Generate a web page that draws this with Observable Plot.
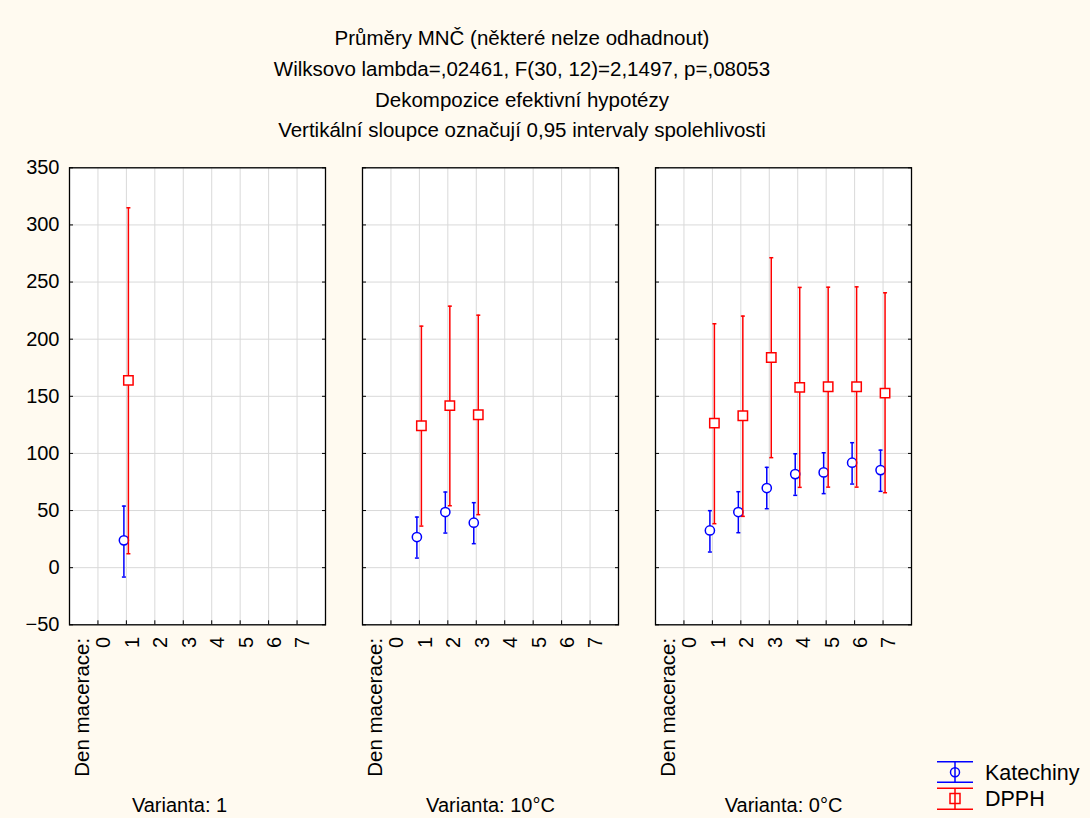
<!DOCTYPE html>
<html><head><meta charset="utf-8">
<script src="https://cdn.jsdelivr.net/npm/d3@7"></script>
<script src="https://cdn.jsdelivr.net/npm/@observablehq/plot@0.6"></script>
<style>
html,body{margin:0;padding:0;background:#FFFAF0;}
body{width:1090px;height:818px;position:relative;overflow:hidden;font-family:"Liberation Sans",Arial,sans-serif;color:#000;}
#title{position:absolute;left:0;top:23px;width:1044px;text-align:center;font-size:20.5px;line-height:30.8px;}
#chart{position:absolute;left:0;top:148px;}
#legend{position:absolute;left:0;top:0;pointer-events:none;}
</style></head>
<body>
<div id="title">
<div>Průměry MNČ (některé nelze odhadnout)</div>
<div>Wilksovo lambda=,02461, F(30, 12)=2,1497, p=,08053</div>
<div>Dekompozice efektivní hypotézy</div>
<div>Vertikální sloupce označují 0,95 intervaly spolehlivosti</div>
</div>
<div id="chart"></div>
<svg id="legend" width="1090" height="818"></svg>
<script>
// ---- data ----
const variants = ["Varianta: 1", "Varianta: 10°C", "Varianta: 0°C"];
const seriesNames = ["Katechiny", "DPPH"];
const seriesColors = ["#0000FF", "#FF0000"];
const xTickDays = [0, 1, 2, 3, 4, 5, 6, 7];
const yTicks = [-50, 0, 50, 100, 150, 200, 250, 300, 350];
const xAxisName = "Den macerace:";

const v1Days = [1];
const v1KatMean = [23.9];
const v1KatLow = [-8.2];
const v1KatHigh = [53.9];
const v1DpphMean = [163.9];
const v1DpphLow = [12.2];
const v1DpphHigh = [315.0];

const v10Days = [1, 2, 3];
const v10KatMean = [26.8, 48.7, 39.4];
const v10KatLow = [8.4, 30.3, 21.0];
const v10KatHigh = [44.3, 66.2, 56.9];
const v10DpphMean = [124.2, 141.8, 133.9];
const v10DpphLow = [36.4, 54.2, 46.4];
const v10DpphHigh = [211.4, 228.9, 221.0];

const v0Days = [1, 2, 3, 4, 5, 6, 7];
const v0KatMean = [32.6, 48.7, 69.7, 81.9, 83.4, 91.9, 85.4];
const v0KatLow = [13.7, 30.6, 51.6, 63.3, 64.8, 73.2, 66.8];
const v0KatHigh = [49.9, 66.5, 87.8, 99.7, 100.6, 109.4, 102.9];
const v0DpphMean = [126.5, 133.0, 184.0, 157.8, 158.4, 158.4, 152.8];
const v0DpphLow = [38.5, 44.9, 96.3, 70.3, 70.5, 70.5, 65.6];
const v0DpphHigh = [213.5, 220.2, 271.3, 245.3, 245.5, 245.8, 240.6];

// ---- build table ----
const groups = [
  [variants[0], v1Days, [[v1KatMean, v1KatLow, v1KatHigh], [v1DpphMean, v1DpphLow, v1DpphHigh]]],
  [variants[1], v10Days, [[v10KatMean, v10KatLow, v10KatHigh], [v10DpphMean, v10DpphLow, v10DpphHigh]]],
  [variants[2], v0Days, [[v0KatMean, v0KatLow, v0KatHigh], [v0DpphMean, v0DpphLow, v0DpphHigh]]]
];
const rows = [];
for (const [variant, days, ser] of groups) {
  ser.forEach(([m, lo, hi], si) => {
    days.forEach((d, i) => rows.push({variant, day: d, series: seriesNames[si], mean: m[i], lo: lo[i], hi: hi[i]}));
  });
}
const kat = rows.filter(r => r.series === seriesNames[0]);
const dpph = rows.filter(r => r.series === seriesNames[1]);

const cap = {draw(ctx, size) { const r = Math.sqrt(size / Math.PI); ctx.moveTo(-r, 0); ctx.lineTo(r, 0); }};
const offs = [-2.5, 2];

function seriesMarks(data, si) {
  const c = seriesColors[si], dx = offs[si];
  return [
    Plot.ruleX(data, {fx: "variant", x: "day", y1: "lo", y2: "hi", stroke: c, strokeWidth: 1.5, dx}),
    Plot.dot(data, {fx: "variant", x: "day", y: "lo", symbol: cap, r: 2, stroke: c, strokeWidth: 1.5, dx}),
    Plot.dot(data, {fx: "variant", x: "day", y: "hi", symbol: cap, r: 2, stroke: c, strokeWidth: 1.5, dx}),
    Plot.dot(data, {fx: "variant", x: "day", y: "mean", symbol: si === 0 ? "circle" : "square", r: si === 0 ? 4.6 : 5.3, stroke: c, fill: "white", strokeWidth: 1.5, dx})
  ];
}

const chart = Plot.plot({
  width: 1090, height: 670,
  marginLeft: 68, marginRight: 177.7, marginTop: 19.3, marginBottom: 193.7,
  style: {background: "transparent", fontFamily: "'Liberation Sans', Arial, sans-serif", fontSize: "20px", color: "#000", overflow: "visible"},
  fx: {domain: variants, paddingInner: 0.1276, paddingOuter: 0, label: null},
  x: {domain: [-1, 8], label: null},
  y: {domain: [-50, 350], label: null},
  marks: [
    Plot.frame({fill: "white", stroke: null}),
    Plot.gridX({ticks: xTickDays, stroke: "#d9d9d9", strokeOpacity: 1}),
    Plot.gridY({ticks: yTicks, stroke: "#d9d9d9", strokeOpacity: 1}),
    Plot.frame({stroke: "#000", strokeWidth: 1.3}),
    Plot.axisY({ticks: yTicks, tickSize: -4, text: null, facetAnchor: null, anchor: "left", label: null}),
    Plot.axisY({ticks: yTicks, tickSize: -4, text: null, facetAnchor: null, anchor: "right", label: null}),
    Plot.axisY({ticks: yTicks, tickSize: 0, tickPadding: 10, anchor: "left", label: null, fontSize: 20}),
    Plot.axisX({ticks: xTickDays, tickSize: -4, text: null, anchor: "bottom", facetAnchor: null, label: null}),
    Plot.axisX({ticks: xTickDays, tickSize: 0, tickPadding: 12, tickRotate: -90, anchor: "bottom", facetAnchor: null, label: null, fontSize: 20, dx: 6}),
    Plot.text(variants, {fx: d => d, x: () => -0.3, frameAnchor: "bottom", text: () => xAxisName, rotate: -90, textAnchor: "end", dy: 13, fontSize: 20.5}),
    Plot.axisFx({ticks: [variants[0]], anchor: "bottom", tickSize: 0, label: null, dy: 164, dx: -18, fontSize: 20}),
    Plot.axisFx({ticks: variants.slice(1), anchor: "bottom", tickSize: 0, label: null, dy: 164, fontSize: 20}),
    ...seriesMarks(kat, 0),
    ...seriesMarks(dpph, 1)
  ]
});
document.getElementById("chart").appendChild(chart);

// ---- legend ----
const lg = d3.select("#legend");
const lx0 = 937, lx1 = 973, lxc = 955;
const legendRows = [{top: 761.7, bottom: 782.3, mid: 772.2}, {top: 788.3, bottom: 809.3, mid: 798.5}];
seriesNames.forEach((name, i) => {
  const r = legendRows[i], c = seriesColors[i];
  const g = lg.append("g").attr("stroke", c).attr("stroke-width", 1.5).attr("fill", "none");
  g.append("line").attr("x1", lx0).attr("x2", lx1).attr("y1", r.top).attr("y2", r.top);
  g.append("line").attr("x1", lx0).attr("x2", lx1).attr("y1", r.bottom).attr("y2", r.bottom);
  g.append("line").attr("x1", lxc).attr("x2", lxc).attr("y1", r.top).attr("y2", r.bottom);
  if (i === 0) g.append("circle").attr("cx", lxc).attr("cy", r.mid).attr("r", 4.5);
  else g.append("rect").attr("x", lxc - 5).attr("y", r.mid - 5).attr("width", 10).attr("height", 10);
  lg.append("text").attr("x", 985).attr("y", r.mid).attr("dy", "0.36em").attr("font-size", 21.5)
    .attr("font-family", "'Liberation Sans', Arial, sans-serif").attr("fill", "#000").text(name);
});
</script>
</body></html>
